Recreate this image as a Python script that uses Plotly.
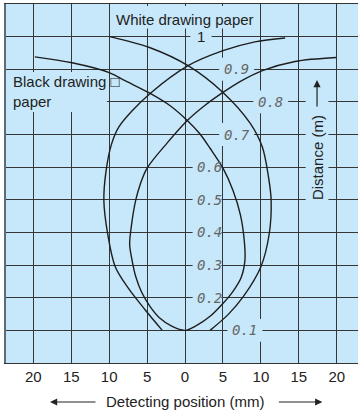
import plotly.graph_objects as go

# Detecting area curves (x: detecting position in mm, y: distance in m)
white_a_x = [-9.9, -4.6, 0.4, 5.0, 8.6, 10.2, 11.0, 11.35, 11.1, 10.0, 7.7, 5.7, 3.3]
white_a_y = [1.0, 0.966, 0.911, 0.829, 0.734, 0.661, 0.570, 0.499, 0.396, 0.295, 0.204, 0.149, 0.1]

white_b_x = [-3.0, -5.3, -7.5, -9.2, -10.2, -10.7, -10.4, -9.7, -8.7, -7.0, -4.6, 0.4, 5.0, 9.2, 13.2]
white_b_y = [0.1, 0.164, 0.230, 0.295, 0.396, 0.499, 0.590, 0.670, 0.724, 0.772, 0.826, 0.911, 0.957, 0.984, 0.996]

black_x = [-19.8, -14.9, -10.0, -7.9, -4.6, -2.0, 0.3, 2.0, 3.3, 5.0, 6.3, 7.3, 7.8, 7.9, 7.4, 6.3, 4.9, 3.3,
           1.6, 0.0, -1.7, -3.3, -4.6, -5.7, -6.5, -7.0, -7.3, -7.1, -6.5, -5.9, -5.0, -2.4, 0.3, 2.6, 5.0, 7.3,
           10.2, 14.5, 19.9]
black_y = [0.938, 0.920, 0.890, 0.865, 0.826, 0.789, 0.743, 0.701, 0.658, 0.597, 0.530, 0.454, 0.377, 0.316, 0.262,
           0.219, 0.180, 0.143, 0.116, 0.1, 0.112, 0.137, 0.173, 0.216, 0.265, 0.317, 0.363, 0.415, 0.499, 0.548,
           0.597, 0.673, 0.743, 0.789, 0.829, 0.863, 0.896, 0.924, 0.936]

x_ticks = [-20, -15, -10, -5, 0, 5, 10, 15, 20]
x_tick_text = ['20', '15', '10', '5', '0', '5', '10', '15', '20']

dist_values = [0.1, 0.2, 0.3, 0.4, 0.5, 0.6, 0.7, 0.8, 0.9, 1.0]
dist_text = ['0.1', '0.2', '0.3', '0.4', '0.5', '0.6', '0.7', '0.8', '0.9', '1']
# where each distance label sits along its grid line (mm)
dist_label_x = [7.9, 3.2, 3.2, 3.2, 3.2, 3.2, 6.8, 11.3, 6.8, 2.1]

BG = '#c6e8fa'
GRID = '#363636'
LINE = '#1e1e1e'
FONT = 'Liberation Sans, Arial'

fig = go.Figure()
for xs, ys in [(white_a_x, white_a_y), (white_b_x, white_b_y), (black_x, black_y)]:
    fig.add_trace(go.Scatter(
        x=xs, y=ys, mode='lines',
        line=dict(color=LINE, width=1.4, shape='spline', smoothing=0.9),
        hoverinfo='skip', showlegend=False
    ))

shapes = []


def mask(x0, x1, y0, y1):
    # background patch that breaks the grid behind a label (curves stay on top)
    shapes.append(dict(type='rect', xref='x', yref='y', x0=x0, x1=x1, y0=y0, y1=y1,
                       fillcolor=BG, line=dict(width=0), layer='between'))


annotations = []
for lx, ly, txt in zip(dist_label_x, dist_values, dist_text):
    if txt == '1':
        mask(lx - 1.4, lx + 1.4, ly - 0.03, ly + 0.03)
        annotations.append(dict(x=lx, y=ly, text=txt, showarrow=False,
                                font=dict(family=FONT, size=15, color='#222')))
    elif lx < 4:
        mask(lx - 2.2, 4.8, ly - 0.032, ly + 0.032)
        annotations.append(dict(x=lx, y=ly, text=txt, showarrow=False,
                                font=dict(family='DejaVu Sans Mono', size=14, color='#666',
                                          style='italic')))
    else:
        mask(lx - 2.3, lx + 2.3, ly - 0.035, ly + 0.035)
        annotations.append(dict(x=lx, y=ly, text=txt, showarrow=False,
                                font=dict(family='DejaVu Sans Mono', size=14, color='#666',
                                          style='italic')))

# White drawing paper label
mask(-9.6, 9.6, 1.025, 1.094)
annotations.append(dict(x=0, y=1.051, text='White drawing paper', showarrow=False,
                        font=dict(family=FONT, size=15, color='#222')))

# Black drawing paper label
mask(-23.6, -10.3, 0.769, 0.892)
annotations.append(dict(x=-22.9, y=0.833, xanchor='left', align='left',
                        text='Black drawing \u25a1<br>paper', showarrow=False,
                        font=dict(family=FONT, size=15, color='#222')))

# Distance axis title with arrow
mask(15.9, 18.9, 0.484, 0.88)
annotations.append(dict(x=17.4, y=0.628, text='Distance (m)', textangle=-90, showarrow=False,
                        font=dict(family=FONT, size=15, color='#222')))
annotations.append(dict(x=17.4, y=0.867, ax=0, ay=28, text='', showarrow=True,
                        arrowhead=2, arrowsize=1.2, arrowwidth=1.2, arrowcolor='#222'))

# Detecting position axis title with arrows
annotations.append(dict(x=0, y=-0.1086, xref='x', yref='paper', yanchor='middle',
                        text='Detecting position (mm)', showarrow=False,
                        font=dict(family=FONT, size=15, color='#222')))
annotations.append(dict(x=-17.8, y=-0.1086, xref='x', yref='paper', ax=47, ay=0, text='',
                        showarrow=True, arrowhead=2, arrowsize=1.2, arrowwidth=1.2,
                        arrowcolor='#222'))
annotations.append(dict(x=18.1, y=-0.1086, xref='x', yref='paper', ax=-45, ay=0, text='',
                        showarrow=True, arrowhead=2, arrowsize=1.2, arrowwidth=1.2,
                        arrowcolor='#222'))

fig.update_layout(
    width=358, height=413,
    autosize=False,
    margin=dict(l=6, r=0, t=4, b=50, pad=0),
    paper_bgcolor='white',
    plot_bgcolor=BG,
    shapes=shapes,
    annotations=annotations,
    xaxis=dict(
        range=[-23.6, 22.8], tickvals=x_ticks, ticktext=x_tick_text,
        showgrid=True, gridcolor=GRID, gridwidth=1.2, zeroline=False,
        showline=True, linecolor='#333', linewidth=1.2, mirror=True,
        ticks='', tickfont=dict(family=FONT, size=15, color='#222'),
        automargin=False, fixedrange=True
    ),
    yaxis=dict(
        range=[0, 1.1], tick0=0, dtick=0.1,
        showgrid=True, gridcolor=GRID, gridwidth=1.2, zeroline=False,
        showline=True, linecolor='#5b6d7b', linewidth=2,
        showticklabels=False, ticks='', automargin=False, fixedrange=True
    ),
)

# the page body has a default 8px margin; drop it so the figure fills the window
fig.write_html(
    "out.html",
    config={'displayModeBar': False},
    post_script="document.body.style.margin='0px';document.body.style.overflow='hidden';",
)
